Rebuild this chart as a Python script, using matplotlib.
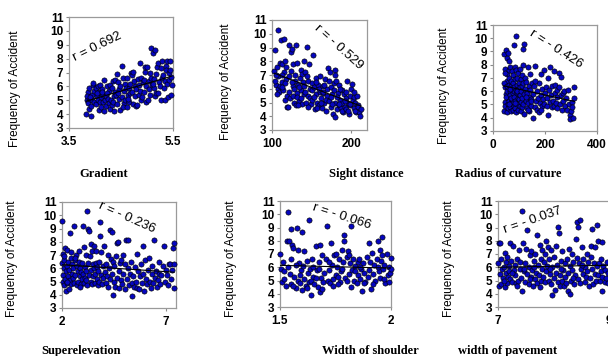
import matplotlib
matplotlib.use("Agg")
import matplotlib.pyplot as plt
import numpy as np

plt.rcParams["font.family"] = ["Liberation Sans", "DejaVu Sans"]

# ---- data (x, frequency of accident) ----
gradient_pts = [
    (3.83, 4.0), (3.85, 5.0), (3.86, 5.6), (3.88, 4.4), (3.84, 5.3), (3.87, 4.8), (3.89, 5.9), (3.9, 5.1),
    (3.92, 3.85), (3.93, 4.6), (3.95, 5.4), (3.96, 6.1), (3.94, 5.0), (3.97, 6.25), (3.98, 4.9), (3.99, 5.7), (3.91, 5.2),
    (4.01, 5.9), (4.02, 4.7), (4.03, 5.3), (4.05, 6.0), (4.06, 5.0), (4.07, 4.3), (4.08, 5.6), (4.09, 4.9), (4.04, 5.5), (4.1, 6.1),
    (4.11, 5.2), (4.12, 4.5), (4.14, 5.8), (4.15, 4.9), (4.16, 5.4), (4.17, 6.45), (4.18, 4.2), (4.19, 5.0), (4.13, 5.6),
    (4.21, 4.6), (4.22, 5.3), (4.24, 6.0), (4.25, 5.1), (4.26, 4.8), (4.27, 5.7), (4.28, 6.1), (4.29, 4.4), (4.23, 5.5),
    (4.31, 5.0), (4.32, 4.65), (4.33, 5.9), (4.34, 6.4), (4.36, 4.2), (4.37, 5.3), (4.38, 5.6), (4.39, 6.45), (4.35, 4.9),
    (4.41, 5.4), (4.42, 6.9), (4.43, 4.7), (4.45, 6.3), (4.46, 5.1), (4.47, 5.8), (4.48, 4.3), (4.49, 6.0), (4.44, 5.5),
    (4.51, 7.5), (4.52, 5.2), (4.53, 6.6), (4.55, 4.8), (4.56, 5.7), (4.57, 6.2), (4.58, 5.0), (4.59, 5.9), (4.54, 4.5),
    (4.61, 4.5), (4.62, 6.6), (4.63, 5.4), (4.65, 5.9), (4.66, 4.9), (4.67, 6.2), (4.68, 5.5), (4.69, 7.0), (4.64, 5.1),
    (4.71, 6.8), (4.72, 5.6), (4.73, 4.7), (4.74, 7.05), (4.76, 5.3), (4.77, 6.0), (4.78, 4.6), (4.79, 5.8), (4.75, 6.4),
    (4.81, 4.65), (4.82, 6.5), (4.84, 5.4), (4.85, 6.1), (4.87, 7.7), (4.88, 5.0), (4.86, 5.7), (4.89, 6.6),
    (4.91, 5.2), (4.92, 6.3), (4.94, 6.45), (4.95, 5.6), (4.97, 7.05), (4.98, 4.85), (4.99, 6.0), (4.96, 7.4),
    (5.0, 7.4), (5.01, 5.0), (5.03, 6.4), (5.04, 5.8), (5.06, 5.4), (5.07, 6.6), (5.08, 8.75), (5.09, 6.1), (5.05, 7.0),
    (5.11, 8.4), (5.13, 5.85), (5.14, 6.5), (5.15, 8.6), (5.16, 5.3), (5.17, 6.9), (5.19, 7.4), (5.18, 5.5), (5.12, 6.2),
    (5.21, 5.5), (5.22, 7.7), (5.23, 6.3), (5.25, 6.0), (5.26, 7.3), (5.27, 5.0), (5.29, 7.8), (5.28, 6.6),
    (5.31, 6.8), (5.32, 5.9), (5.34, 6.4), (5.35, 5.0), (5.36, 7.5), (5.38, 7.8), (5.37, 7.2), (5.39, 6.2),
    (5.41, 5.25), (5.42, 6.45), (5.43, 7.0), (5.45, 7.85), (5.45, 7.2), (5.47, 5.4), (5.48, 6.1), (5.46, 6.7),
]

sight_pts = [
    (103, 7.3), (104, 8.8), (105, 6.3), (106, 7.6), (107, 6.0), (108, 10.25), (109, 5.8), (110, 7.9), (104, 6.6), (106, 5.6), (108, 6.9), (110, 6.2), (105, 7.0),
    (111, 9.55), (112, 6.5), (113, 7.8), (114, 5.9), (115, 9.6), (116, 8.0), (117, 5.2), (118, 6.7), (119, 4.7), (113, 6.1), (115, 7.2), (117, 6.4), (119, 5.5), (112, 7.0), (120, 4.65), (118, 7.6),
    (121, 6.9), (122, 9.2), (123, 5.3), (124, 8.7), (125, 8.9), (126, 6.2), (127, 7.8), (128, 5.0), (129, 6.6), (130, 9.2), (122, 5.8), (124, 7.3), (126, 5.5), (128, 6.0), (130, 4.8), (125, 6.5), (129, 7.0),
    (131, 5.7), (132, 7.9), (133, 6.3), (134, 5.1), (135, 6.8), (136, 7.4), (137, 5.9), (138, 4.9), (139, 6.5), (140, 8.0), (132, 5.4), (134, 6.1), (136, 5.3), (138, 7.1), (140, 5.6), (133, 4.85),
    (141, 6.2), (142, 7.2), (143, 5.0), (144, 9.05), (145, 6.6), (146, 5.5), (147, 7.8), (148, 6.0), (149, 4.9), (150, 6.4), (142, 5.8), (144, 6.9), (146, 4.7), (148, 5.3), (150, 5.9),
    (151, 5.2), (152, 8.45), (153, 6.1), (154, 4.5), (155, 6.8), (156, 5.6), (157, 5.0), (158, 6.3), (159, 4.8), (160, 5.8), (153, 5.4), (155, 6.5), (157, 4.6), (159, 6.0),
    (161, 6.9), (162, 5.3), (163, 4.6), (164, 6.2), (165, 5.7), (166, 5.0), (167, 6.7), (168, 4.4), (169, 5.5), (170, 6.0), (162, 4.95), (164, 5.8), (166, 6.3), (168, 5.2),
    (171, 7.5), (172, 5.1), (173, 7.2), (174, 4.7), (175, 6.1), (176, 5.6), (177, 4.2), (178, 6.4), (179, 7.35), (180, 5.0), (172, 6.6), (174, 5.4), (176, 4.9), (178, 5.9), (180, 3.95), (179, 7.0),
    (181, 6.6), (182, 4.5), (183, 5.7), (184, 6.3), (185, 4.8), (186, 5.2), (187, 4.6), (188, 5.9), (189, 5.0), (190, 4.3), (182, 5.4), (184, 4.9), (186, 6.0), (188, 4.4),
    (191, 5.6), (192, 4.7), (193, 5.3), (194, 4.5), (195, 6.6), (196, 5.0), (197, 4.2), (198, 5.5), (199, 4.8), (200, 6.0), (192, 5.1), (194, 5.8), (196, 4.4), (198, 4.9),
    (201, 6.35), (202, 5.2), (203, 4.6), (204, 5.4), (205, 5.0), (206, 4.3), (207, 5.5), (208, 4.85), (209, 4.7), (210, 4.3), (211, 4.0), (212, 4.5), (203, 5.8), (205, 4.4),
]

radius_pts = [
    (42, 4.5), (44, 8.8), (45, 5.2), (46, 6.3), (47, 7.7), (48, 4.9), (50, 9.1), (51, 5.8), (52, 8.5), (53, 6.8), (54, 4.4), (55, 7.3),
    (56, 5.5), (57, 8.9), (58, 6.1), (59, 5.0), (60, 7.0), (43, 6.6), (49, 5.6), (55, 6.0), (58, 4.7), (45, 7.4), (52, 6.4), (60, 8.3),
    (61, 5.3), (62, 6.5), (63, 7.6), (64, 4.8), (65, 6.0), (66, 5.7), (67, 7.8), (68, 4.5), (69, 6.4), (70, 5.1), (71, 6.8), (72, 7.5),
    (73, 5.4), (74, 6.2), (75, 4.6), (76, 5.9), (77, 7.2), (78, 5.2), (79, 6.0), (80, 9.5), (63, 5.0), (67, 6.2), (71, 5.5), (75, 6.6), (79, 4.9),
    (81, 6.3), (82, 5.6), (83, 7.8), (84, 4.7), (85, 6.9), (86, 5.3), (87, 10.2), (88, 6.1), (89, 4.4), (90, 7.6), (91, 5.9),
    (92, 6.5), (93, 5.0), (94, 7.0), (95, 5.5), (96, 6.2), (97, 4.6), (98, 7.4), (99, 5.8), (100, 6.6), (85, 5.1), (93, 6.0),
    (101, 5.4), (102, 7.7), (103, 4.9), (104, 6.3), (105, 5.7), (106, 6.9), (107, 4.5), (108, 6.0), (109, 5.2), (110, 7.2),
    (111, 4.8), (112, 6.4), (113, 5.5), (114, 8.0), (115, 9.2), (116, 5.0), (117, 6.6), (118, 9.6), (119, 4.3), (120, 5.8),
    (122, 6.2), (124, 7.0), (126, 5.3), (128, 6.7), (130, 4.7), (132, 5.9), (134, 7.8), (136, 5.1), (138, 6.4), (140, 4.5),
    (142, 5.6), (144, 6.1), (146, 4.9), (148, 5.4), (150, 6.6), (125, 5.6), (135, 4.6), (145, 5.3), (141, 7.3),
    (152, 4.0), (155, 5.8), (158, 6.4), (160, 7.9), (162, 4.8), (165, 5.3), (168, 6.0), (170, 4.6), (172, 5.5), (175, 6.6), (178, 4.4),
    (180, 5.1), (183, 7.3), (185, 5.7), (188, 4.9), (190, 6.2), (193, 5.4), (195, 7.6), (198, 5.0), (200, 5.9), (163, 6.8), (186, 4.6),
    (203, 6.3), (206, 4.9), (209, 5.5), (212, 4.2), (215, 6.1), (218, 5.2), (220, 7.8), (222, 5.7), (225, 4.8), (228, 6.4),
    (230, 5.3), (233, 7.5), (235, 4.9), (238, 5.9), (240, 6.5), (243, 5.1), (246, 5.6), (248, 4.7), (210, 7.0), (245, 6.1),
    (252, 6.3), (255, 7.4), (258, 5.0), (260, 5.7), (263, 7.1), (265, 4.6), (268, 5.9), (270, 5.3), (273, 6.0), (276, 4.9), (280, 5.5),
    (285, 4.6), (288, 6.1), (292, 5.0), (295, 4.2), (298, 3.9), (300, 4.5), (303, 5.2), (306, 4.0), (310, 6.3), (313, 5.5), (302, 4.8),
]

superelev_pts = [
    (2.0, 9.6), (2.02, 6.4), (2.03, 5.0), (2.05, 7.1), (2.06, 5.5), (2.08, 6.0), (2.1, 4.7), (2.12, 6.6), (2.14, 5.2), (2.16, 7.5),
    (2.18, 4.3), (2.2, 5.8), (2.22, 6.2), (2.24, 4.9), (2.26, 7.4), (2.28, 5.4), (2.3, 6.5), (2.32, 4.4), (2.35, 5.9), (2.37, 8.66),
    (2.4, 5.1), (2.42, 6.8), (2.45, 4.8), (2.48, 5.6), (2.5, 6.3), (2.1, 6.9), (2.25, 5.0), (2.45, 7.2),
    (2.52, 5.3), (2.55, 6.0), (2.58, 4.9), (2.6, 9.2), (2.62, 6.6), (2.65, 5.5), (2.68, 7.0), (2.7, 4.7), (2.72, 6.2), (2.75, 5.8),
    (2.78, 5.0), (2.8, 6.5), (2.82, 7.3), (2.85, 5.4), (2.88, 6.0), (2.9, 4.8), (2.92, 5.7), (2.95, 6.4), (2.98, 5.2), (3.0, 9.2), (2.65, 6.8), (2.85, 4.6),
    (3.02, 5.6), (3.05, 7.6), (3.08, 4.9), (3.1, 6.1), (3.12, 5.3), (3.15, 7.0), (3.18, 5.8), (3.2, 10.3), (3.22, 4.7), (3.25, 6.4),
    (3.26, 9.0), (3.3, 8.8), (3.32, 5.5), (3.35, 6.9), (3.38, 5.0), (3.4, 7.8), (3.42, 5.9), (3.45, 4.8), (3.48, 6.3), (3.5, 5.4), (3.15, 5.1), (3.45, 7.3),
    (3.52, 6.0), (3.55, 7.7), (3.58, 4.9), (3.6, 5.6), (3.62, 7.3), (3.65, 6.4), (3.68, 5.2), (3.7, 6.1), (3.72, 4.7), (3.75, 5.8),
    (3.78, 6.5), (3.8, 5.0), (3.83, 9.5), (3.83, 8.4), (3.86, 5.5), (3.9, 7.2), (3.93, 4.8), (3.96, 6.2), (4.0, 5.3),
    (4.03, 7.7), (4.06, 5.7), (4.1, 4.9), (4.13, 6.3), (4.16, 5.4), (4.2, 7.0), (4.23, 4.6), (4.26, 6.0), (4.3, 8.9), (4.33, 5.2),
    (4.36, 6.7), (4.4, 8.7), (4.42, 5.6), (4.45, 6.5), (4.48, 4.0), (4.5, 5.0),
    (4.53, 6.2), (4.56, 4.6), (4.6, 6.9), (4.63, 5.3), (4.66, 7.9), (4.7, 8.0), (4.73, 5.8), (4.76, 4.5), (4.8, 6.4), (4.83, 5.1), (4.86, 6.6), (4.9, 4.8), (4.93, 5.6), (4.96, 7.0),
    (5.02, 4.4), (5.06, 6.3), (5.1, 8.1), (5.14, 5.2), (5.18, 6.0), (5.2, 8.15), (5.24, 4.7), (5.28, 5.6), (5.32, 6.5), (5.36, 4.9), (5.4, 3.9), (5.44, 5.4), (5.48, 4.6),
    (5.52, 6.1), (5.56, 5.0), (5.6, 4.5), (5.64, 7.1), (5.68, 5.8), (5.72, 4.4), (5.76, 5.4), (5.8, 6.3), (5.84, 4.9), (5.9, 7.65), (5.93, 5.6), (5.96, 4.25),
    (6.02, 6.6), (6.06, 5.2), (6.1, 4.8), (6.14, 5.9), (6.2, 6.8), (6.24, 5.0), (6.28, 4.5), (6.32, 5.6), (6.36, 6.2), (6.4, 4.9), (6.45, 8.1), (6.48, 5.3),
    (6.52, 5.8), (6.58, 4.6), (6.62, 5.1), (6.66, 6.5), (6.7, 5.6), (6.75, 4.8), (6.8, 5.5), (6.85, 6.2), (6.9, 7.65), (6.95, 5.0), (7.0, 5.9),
    (7.06, 5.5), (7.1, 4.7), (7.15, 6.3), (7.2, 6.3), (7.25, 5.2), (7.3, 5.9), (7.35, 7.5), (7.4, 7.9), (7.4, 4.5), (7.38, 6.3),
]

shoulder_pts = [
    (1.50, 7.0), (1.505, 5.9), (1.51, 4.9), (1.515, 6.4), (1.52, 5.1), (1.525, 4.6), (1.53, 7.95), (1.535, 6.0), (1.538, 10.2), (1.54, 8.0),
    (1.545, 5.5), (1.55, 8.9), (1.55, 4.7), (1.548, 6.6), (1.52, 5.7),
    (1.555, 7.7), (1.56, 7.45), (1.565, 5.3), (1.57, 4.4), (1.575, 9.0), (1.58, 5.0), (1.585, 6.3), (1.59, 4.8), (1.595, 5.8), (1.6, 8.65),
    (1.56, 4.6), (1.58, 7.3), (1.59, 5.4), (1.6, 4.3), (1.57, 6.2),
    (1.605, 6.1), (1.61, 5.1), (1.615, 4.6), (1.62, 6.5), (1.625, 5.6), (1.63, 9.57), (1.63, 4.9), (1.635, 5.9), (1.64, 3.93), (1.645, 6.6),
    (1.65, 5.3), (1.61, 7.2), (1.64, 5.0), (1.62, 4.4), (1.648, 6.0),
    (1.655, 4.7), (1.66, 7.6), (1.665, 5.8), (1.67, 4.5), (1.675, 6.4), (1.68, 7.7), (1.68, 4.1), (1.685, 5.2), (1.69, 6.9), (1.695, 4.9),
    (1.7, 5.6), (1.66, 5.2), (1.69, 4.35), (1.675, 5.9),
    (1.705, 6.6), (1.71, 9.15), (1.715, 5.0), (1.72, 5.8), (1.725, 4.8), (1.73, 7.8), (1.735, 6.2), (1.74, 5.1), (1.745, 6.9), (1.75, 5.4),
    (1.72, 6.4), (1.74, 4.6), (1.75, 7.0),
    (1.755, 6.0), (1.76, 5.3), (1.765, 6.6), (1.77, 4.9), (1.775, 5.7), (1.78, 7.3), (1.785, 6.4), (1.79, 7.95), (1.79, 8.45), (1.795, 5.2),
    (1.8, 6.8), (1.76, 4.7), (1.78, 5.9), (1.8, 5.0),
    (1.805, 7.2), (1.81, 5.5), (1.815, 6.3), (1.82, 9.1), (1.82, 4.5), (1.825, 5.8), (1.83, 6.6), (1.835, 5.0), (1.84, 6.1), (1.845, 4.8),
    (1.85, 5.4), (1.81, 6.9), (1.84, 5.7), (1.85, 6.4),
    (1.855, 6.6), (1.86, 5.1), (1.865, 5.9), (1.87, 4.2), (1.875, 6.3), (1.88, 5.6), (1.885, 4.9), (1.89, 6.8), (1.895, 5.3), (1.9, 7.8),
    (1.86, 6.0), (1.88, 4.8), (1.9, 5.8),
    (1.905, 6.4), (1.91, 4.35), (1.915, 7.1), (1.92, 5.5), (1.925, 6.2), (1.93, 5.0), (1.935, 6.6), (1.94, 7.95), (1.945, 5.7), (1.95, 7.3),
    (1.92, 4.7), (1.94, 6.0), (1.95, 5.2),
    (1.955, 6.5), (1.96, 8.3), (1.965, 5.9), (1.97, 6.2), (1.975, 4.8), (1.98, 7.0), (1.985, 5.4), (1.99, 6.0), (1.995, 5.6), (2.0, 6.7),
    (2.0, 5.9), (1.97, 5.1), (1.99, 4.9), (1.96, 6.9),
]

pavement_pts = [
    (7.0, 6.3), (7.01, 7.8), (7.02, 4.6), (7.03, 5.5), (7.04, 7.85), (7.05, 6.6), (7.06, 4.7), (7.08, 5.9), (7.09, 5.2), (7.1, 6.0),
    (7.12, 4.5), (7.13, 7.1), (7.14, 5.6), (7.15, 6.4), (7.17, 4.8), (7.18, 5.3), (7.19, 6.1), (7.2, 5.7), (7.11, 5.0), (7.16, 6.8),
    (7.21, 7.8), (7.22, 5.1), (7.24, 6.5), (7.25, 4.9), (7.27, 7.6), (7.28, 5.8), (7.3, 6.2), (7.31, 5.4), (7.33, 4.8), (7.35, 6.6),
    (7.36, 5.0), (7.38, 7.3), (7.39, 5.9), (7.4, 6.4), (7.26, 5.6), (7.34, 4.6),
    (7.41, 5.2), (7.43, 10.25), (7.43, 4.2), (7.45, 7.8), (7.46, 5.7), (7.48, 6.3), (7.49, 4.9), (7.5, 7.4), (7.52, 8.8), (7.53, 5.5),
    (7.55, 6.0), (7.56, 4.7), (7.58, 6.9), (7.59, 5.3), (7.6, 7.2), (7.47, 5.9), (7.57, 5.1),
    (7.61, 5.8), (7.63, 4.6), (7.64, 6.5), (7.66, 5.1), (7.67, 7.0), (7.69, 5.6), (7.7, 8.45), (7.71, 4.8), (7.72, 6.2), (7.74, 5.4),
    (7.75, 7.7), (7.77, 6.6), (7.78, 5.0), (7.79, 5.9), (7.8, 7.3), (7.65, 6.0), (7.76, 4.5),
    (7.81, 5.3), (7.83, 6.4), (7.84, 4.9), (7.86, 8.0), (7.87, 5.7), (7.88, 6.1), (7.9, 7.5), (7.91, 5.0), (7.92, 6.6), (7.94, 5.5),
    (7.95, 7.3), (7.96, 4.7), (7.97, 3.93), (7.98, 6.0), (8.0, 5.2), (7.85, 7.0), (7.93, 5.9),
    (8.01, 6.8), (8.03, 4.3), (8.04, 5.6), (8.05, 7.6), (8.07, 6.2), (8.08, 4.9), (8.09, 9.07), (8.1, 8.57), (8.11, 5.4), (8.12, 4.55),
    (8.13, 6.5), (8.15, 5.0), (8.16, 7.2), (8.18, 5.8), (8.19, 4.6), (8.2, 6.3), (8.14, 5.9),
    (8.21, 5.3), (8.23, 4.8), (8.24, 6.6), (8.26, 5.6), (8.27, 4.2), (8.29, 6.1), (8.3, 4.0), (8.31, 5.0), (8.33, 7.0), (8.34, 5.8),
    (8.36, 6.4), (8.37, 4.7), (8.39, 5.4), (8.4, 8.1), (8.28, 7.4), (8.35, 5.2),
    (8.42, 9.45), (8.45, 9.07), (8.48, 9.57), (8.43, 6.7), (8.44, 5.1), (8.46, 6.3), (8.47, 4.8), (8.5, 5.9), (8.51, 7.5), (8.53, 5.5),
    (8.54, 6.6), (8.56, 4.9), (8.57, 6.0), (8.59, 5.3), (8.6, 7.0), (8.52, 6.2),
    (8.61, 5.7), (8.63, 6.4), (8.64, 4.6), (8.66, 5.2), (8.67, 7.6), (8.69, 8.9), (8.7, 5.9), (8.71, 4.7), (8.73, 6.3), (8.74, 5.5),
    (8.75, 7.5), (8.77, 5.0), (8.78, 9.2), (8.79, 6.1), (8.8, 5.4), (8.68, 6.8),
    (8.81, 7.95), (8.82, 6.3), (8.83, 5.0), (8.85, 5.7), (8.86, 6.6), (8.87, 7.9), (8.87, 4.23), (8.88, 5.3), (8.9, 6.1), (8.92, 4.9),
    (8.93, 5.8), (8.95, 5.2), (8.96, 6.4), (8.98, 4.8), (8.99, 5.6),
]

x_titles = ["Gradient", "Sight distance", "Radius of curvature",
            "Superelevation", "Width of shoulder", "width of pavement"]
r_labels = ["r = 0.692", "r = - 0.529", "r = - 0.426", "r = - 0.236", "r = - 0.066", "r = - 0.037"]
x_limits = [(3.5, 5.5), (100, 220), (0, 400), (2, 7.5), (1.5, 2), (7, 9)]
x_ticks = [[3.5, 5.5], [100, 200], [0, 200, 400], [2, 7], [1.5, 2], [7, 9]]
x_ticklabels = [["3.5", "5.5"], ["100", "200"], ["0", "200", "400"], ["2", "7"], ["1.5", "2"], ["7", "9"]]
y_ticks = [3, 4, 5, 6, 7, 8, 9, 10, 11]
y_label = "Frequency of Accident"

# ---- layout (pixels in a 608 x 356 canvas) ----
W, H = 608, 356
# left, right, top, bottom of each plot box
boxes = [(69, 173, 17, 128), (272, 367, 20, 130), (493, 597, 25, 131),
         (62, 176, 202, 308), (280, 391, 201, 307), (498, 609, 201, 307)]
ylabel_pos = [(21, 89), (232, 82), (450, 86), (18, 259), (237, 259), (455, 259)]
title_pos = [(104, 174), (366, 174), (508, 174), (81, 351), (370, 351), (508, 351)]
# r annotation: data position and angle
r_pos = [(4.04, 8.85, 26), (184, 9.05, -42), (242, 9.2, -33),
         (5.15, 9.8, -24), (1.78, 9.85, -18), (7.62, 9.55, 19)]

all_pts = [gradient_pts, sight_pts, radius_pts, superelev_pts, shoulder_pts, pavement_pts]

fig = plt.figure(figsize=(W / 100, H / 100), dpi=100)
fig.patch.set_facecolor("white")

for i, pts in enumerate(all_pts):
    l, r, t, b = boxes[i]
    ax = fig.add_axes([l / W, 1 - b / H, (r - l) / W, (b - t) / H])
    arr = np.array(pts)
    xs, ys = arr[:, 0], arr[:, 1]

    ax.scatter(xs, ys, s=14, c="#0606c0", edgecolors="black", linewidths=0.45, zorder=3, clip_on=False)

    # least squares trend line over the data range
    k, c0 = np.polyfit(xs, ys, 1)
    xx = np.array([xs.min(), xs.max()])
    ax.plot(xx, k * xx + c0, color="black", linewidth=0.8, zorder=4)

    ax.set_xlim(*x_limits[i])
    ax.set_ylim(3, 11)
    ax.set_xticks(x_ticks[i])
    ax.set_xticklabels(x_ticklabels[i])
    ax.set_yticks(y_ticks)
    ax.set_yticklabels([str(v) for v in y_ticks])
    for sp in ax.spines.values():
        sp.set_color("#9a9a9a")
        sp.set_linewidth(0.9)
    ax.tick_params(direction="out", length=2.5, width=0.8, color="#8a8a8a", pad=1.5,
                   labelsize=8.5)
    ax.tick_params(axis="x", pad=3.5)
    for lab in ax.get_xticklabels() + ax.get_yticklabels():
        lab.set_fontweight("bold")

    xr, yr, ang = r_pos[i]
    ax.text(xr, yr, r_labels[i], rotation=ang, rotation_mode="anchor",
            ha="center", va="center", fontsize=9.5, zorder=5)

    ax.set_ylabel(y_label, fontsize=8.5)
    lx, ly = ylabel_pos[i]
    ax.yaxis.set_label_coords((lx - l) / (r - l), (b - ly) / (b - t))

    tx, ty = title_pos[i]
    fig.text(tx / W, 1 - ty / H, x_titles[i], ha="center", va="center",
             fontsize=9, fontweight="bold", family=["Liberation Serif", "DejaVu Serif"])

fig.savefig("out.png", dpi=100, facecolor="white")
